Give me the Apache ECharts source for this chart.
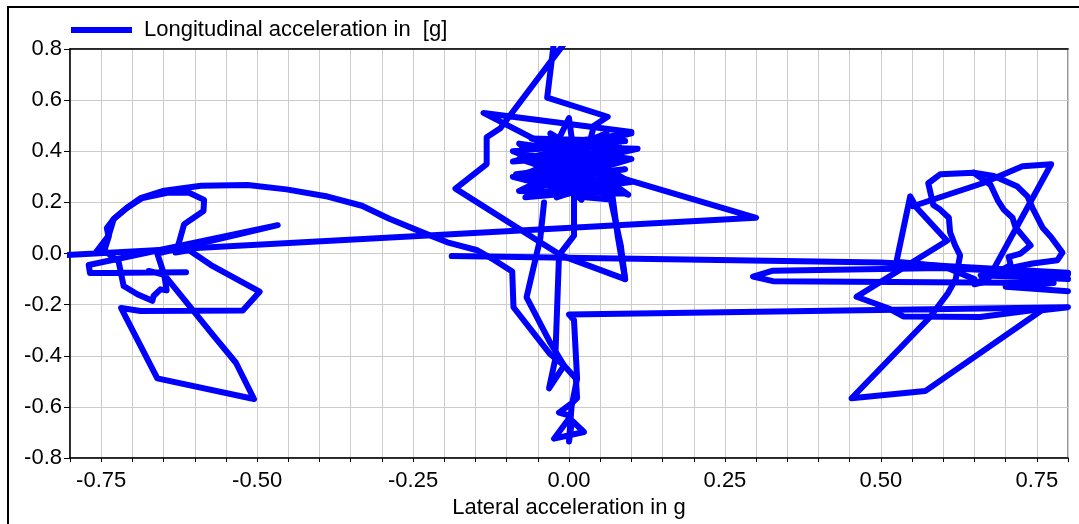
<!DOCTYPE html>
<html>
<head>
<meta charset="utf-8">
<script src="https://cdn.jsdelivr.net/npm/echarts@6/dist/echarts.min.js"></script>
<style>
html, body { margin: 0; padding: 0; background: #fff; }
#chart { width: 1079px; height: 524px; }
</style>
</head>
<body>
<div id="chart"></div>
<script>
// G-G trace pieces, each point is [lateral g, longitudinal g]
var mainPath = [
  [0.00, 0.30], [0.09, 0.33], [-0.07, 0.29], [0.07, 0.39], [-0.09, 0.36], [0.10, 0.47],
  [-0.05, 0.42], [0.11, 0.41], [-0.06, 0.32], [0.04, 0.45], [-0.03, 0.30], [0.06, 0.27],
  [-0.08, 0.37], [0.095, 0.23], [-0.02, 0.43], [0.00, 0.53], [0.01, 0.35], [-0.08, 0.245],
  [0.09, 0.235], [0.02, 0.31], [0.04, 0.50], [0.062, 0.535], [-0.035, 0.61], [-0.024, 0.83],
  [-0.005, 0.83], [-0.11, 0.49], [-0.132, 0.455], [-0.132, 0.35], [-0.182, 0.254], [-0.013, -0.007],
  [0.09, -0.10], [0.078, 0.07], [0.07, 0.22], [-0.07, 0.365], [0.03, 0.34], [-0.137, 0.55],
  [0.10, 0.475], [-0.04, 0.39], [0.05, 0.345], [-0.06, 0.26], [0.08, 0.30], [-0.02, 0.22],
  [0.04, 0.38], [-0.05, 0.33], [0.03, 0.23], [0.064, 0.31], [0.30, 0.14], [-0.81, -0.006],
  [-0.76, 0.0], [-0.738, 0.07], [-0.73, 0.135], [-0.709, 0.178], [-0.687, 0.217], [-0.649, 0.246],
  [-0.59, 0.265], [-0.515, 0.268], [-0.453, 0.251], [-0.387, 0.223], [-0.332, 0.187], [-0.288, 0.136],
  [-0.228, 0.076], [-0.195, 0.044], [-0.147, 0.013], [-0.12, -0.025], [-0.091, -0.07], [-0.089, -0.21],
  [-0.03, -0.394], [-0.008, -0.438], [0.011, -0.489], [0.013, -0.565], [0.005, -0.584], [-0.016, -0.622],
  [0.003, -0.635], [-0.024, -0.724], [0.024, -0.698], [0.005, -0.654], [0.0, -0.735], [0.004, -0.60],
  [0.013, -0.489], [0.008, -0.26], [0.0, -0.238], [0.80, -0.21], [0.758, -0.222], [0.571, -0.538],
  [0.453, -0.566], [0.579, -0.248], [0.608, -0.153], [0.62, -0.10], [0.627, -0.007], [0.619, 0.032],
  [0.611, 0.083], [0.609, 0.14], [0.595, 0.172], [0.584, 0.19], [0.576, 0.275], [0.595, 0.31],
  [0.649, 0.316], [0.681, 0.303], [0.719, 0.262], [0.735, 0.224], [0.743, 0.179], [0.759, 0.102],
  [0.773, 0.064], [0.791, 0.004], [0.783, -0.026], [0.743, -0.039], [0.70, -0.06], [0.66, -0.085],
  [0.80, -0.10]
];

var clusterFill = [
  [0.00, 0.25], [0.10, 0.28], [-0.085, 0.31], [0.08, 0.36], [-0.06, 0.45], [0.09, 0.44],
  [-0.09, 0.40], [0.07, 0.25], [-0.07, 0.22], [0.05, 0.41], [-0.04, 0.27], [0.10, 0.37],
  [-0.08, 0.43], [0.02, 0.21], [0.06, 0.47], [-0.05, 0.36], [0.09, 0.29], [-0.03, 0.47],
  [0.01, 0.26], [0.08, 0.42], [-0.09, 0.30], [0.04, 0.22]
];

var leftLoops = [
  [-0.614, -0.073], [-0.768, -0.076], [-0.77, -0.045], [-0.467, 0.111], [-0.66, 0.0], [-0.649, -0.083],
  [-0.569, -0.324], [-0.534, -0.427], [-0.505, -0.569], [-0.66, -0.488], [-0.718, -0.213], [-0.687, -0.225],
  [-0.523, -0.223], [-0.496, -0.149], [-0.574, -0.045], [-0.609, 0.013], [-0.631, 0.004], [-0.625, 0.045],
  [-0.617, 0.115], [-0.586, 0.166], [-0.585, 0.21], [-0.609, 0.238], [-0.644, 0.238], [-0.684, 0.217],
  [-0.709, 0.178], [-0.73, 0.135], [-0.741, 0.10], [-0.738, 0.065], [-0.745, 0.012], [-0.722, -0.032],
  [-0.714, -0.127], [-0.692, -0.159], [-0.668, -0.185], [-0.666, -0.166], [-0.655, -0.14], [-0.645, -0.144],
  [-0.649, -0.083], [-0.674, -0.068]
];

var centerDrop = [
  [-0.04, 0.20], [-0.046, 0.06], [-0.068, -0.171], [-0.03, -0.349], [-0.008, -0.438], [-0.032, -0.527],
  [-0.022, -0.413], [-0.016, -0.006], [0.008, 0.07], [0.008, 0.224], [0.067, 0.211], [0.083, 0.032],
  [0.09, -0.10]
];

var midLine = [[-0.188, -0.01], [0.16, -0.022], [0.50, -0.035], [0.80, -0.075]];

var hairpin = [
  [0.80, -0.08], [0.60, -0.057], [0.327, -0.067], [0.295, -0.09], [0.327, -0.108], [0.777, -0.115],
  [0.70, -0.13], [0.80, -0.147]
];

var rightLoops = [
  [0.761, -0.216], [0.659, -0.248], [0.536, -0.246], [0.514, -0.216], [0.461, -0.169], [0.606, 0.05],
  [0.557, 0.18], [0.547, 0.224], [0.525, -0.032], [0.60, -0.05], [0.65, -0.10]
];

var rightZig = [
  [0.551, 0.185], [0.663, 0.275], [0.727, 0.341], [0.773, 0.349], [0.67, -0.109], [0.65, -0.12],
  [0.708, -0.045], [0.705, -0.013], [0.724, 0.0], [0.74, 0.032], [0.727, 0.07], [0.716, 0.102],
  [0.711, 0.14], [0.697, 0.172], [0.687, 0.21], [0.676, 0.268], [0.649, 0.316]
];

var seriesName = 'Longitudinal acceleration in  [g]';
var paths = [mainPath, clusterFill, leftLoops, centerDrop, midLine, hairpin, rightLoops, rightZig];
var fontFam = '"Liberation Sans", Arial, sans-serif';

var chart = echarts.init(document.getElementById('chart'));

var series = paths.map(function (p) {
  return {
    name: seriesName,
    type: 'line',
    data: p,
    symbol: 'none',
    showSymbol: false,
    clip: true,
    lineStyle: { color: '#0000ff', width: 6, cap: 'round', join: 'round' },
    itemStyle: { color: '#0000ff' },
    z: 3
  };
});

chart.setOption({
  animation: false,
  backgroundColor: '#fff',
  graphic: [{
    type: 'rect',
    silent: true,
    z: -10,
    shape: { x: 8, y: 7, width: 1200, height: 700 },
    style: { fill: 'none', stroke: '#000', lineWidth: 2 }
  }],
  legend: {
    data: [seriesName],
    left: 66,
    top: 14,
    icon: 'rect',
    itemWidth: 61,
    itemHeight: 6,
    textStyle: { fontSize: 22, fontFamily: fontFam, color: '#000', padding: [0, 0, 0, 7] }
  },
  grid: {
    left: 70, right: 11, top: 49, bottom: 56,
    show: true, borderColor: '#777', borderWidth: 1.5, backgroundColor: '#fff'
  },
  xAxis: [{
    type: 'value',
    min: -0.8, max: 0.8, interval: 0.05,
    name: 'Lateral acceleration in g',
    nameLocation: 'middle',
    nameGap: 28,
    nameTextStyle: { fontSize: 22, fontFamily: fontFam, color: '#000' },
    axisLine: { show: true, onZero: false, lineStyle: { color: '#000', width: 1.5 } },
    axisTick: { show: true, length: 4, interval: 0, lineStyle: { color: '#000' } },
    splitLine: { show: true, lineStyle: { color: '#cccccc', width: 1 } },
    axisLabel: {
      interval: 0, margin: 12, fontSize: 22, fontFamily: fontFam, color: '#000',
      formatter: function (v) {
        var q = v * 4;
        if (Math.abs(q - Math.round(q)) > 1e-6) return '';
        if (Math.abs(v) < 1e-9) v = 0;
        return v.toFixed(2);
      }
    }
  }, {
    type: 'value', position: 'top',
    min: -0.8, max: 0.8,
    axisLine: { show: true, onZero: false, lineStyle: { color: '#000', width: 1.5 } },
    axisTick: { show: false }, axisLabel: { show: false }, splitLine: { show: false }
  }],
  yAxis: {
    type: 'value',
    min: -0.8, max: 0.8, interval: 0.2,
    axisLine: { show: true, onZero: false, lineStyle: { color: '#000', width: 1.5 } },
    axisTick: { show: true, length: 6, lineStyle: { color: '#000' } },
    splitLine: { show: true, lineStyle: { color: '#cccccc', width: 1 } },
    axisLabel: {
      margin: 8, fontSize: 22, fontFamily: fontFam, color: '#000',
      formatter: function (v) {
        if (Math.abs(v) < 1e-9) v = 0;
        return v.toFixed(1);
      }
    }
  },
  series: series
});
</script>
</body>
</html>
